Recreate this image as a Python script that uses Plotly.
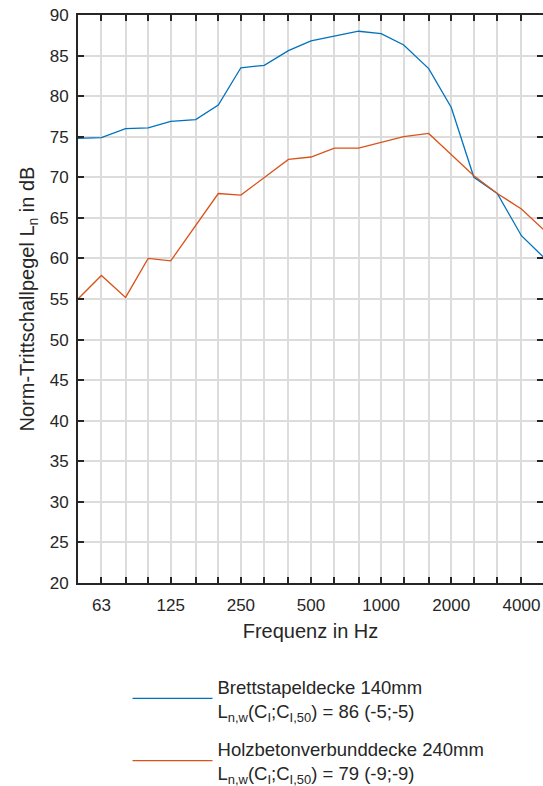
import math
import plotly.graph_objects as go

freqs = [50, 63, 80, 100, 125, 160, 200, 250, 315, 400, 500, 630, 800,
         1000, 1250, 1600, 2000, 2500, 3150, 4000, 5000]
brettstapel = [74.8, 74.9, 76.0, 76.1, 76.9, 77.1, 78.9, 83.5, 83.8, 85.6,
               86.8, 87.4, 88.0, 87.7, 86.3, 83.4, 78.6, 70.0, 68.0, 62.8, 60.1]
holzbeton = [55.0, 57.9, 55.2, 60.0, 59.7, 64.0, 68.0, 67.8, 70.0, 72.2,
             72.5, 73.6, 73.6, 74.3, 75.0, 75.4, 72.8, 70.2, 68.0, 66.1, 63.5]
labelled = [63, 125, 250, 500, 1000, 2000, 4000]
unlabelled = [f for f in freqs if f not in labelled]

name_a = "Brettstapeldecke 140mm<br>L<sub>n,w</sub>(C<sub>I</sub>;C<sub>I,50</sub>) = 86 (-5;-5)"
name_b = "Holzbetonverbunddecke 240mm<br>L<sub>n,w</sub>(C<sub>I</sub>;C<sub>I,50</sub>) = 79 (-9;-9)"

FONT = "Liberation Sans, Arial, sans-serif"
TXT = "#262626"
GRID = "#dcdcdc"

fig = go.Figure()
fig.add_trace(go.Scatter(x=freqs, y=brettstapel, mode="lines", name=name_a,
                         line=dict(color="#0072BD", width=1.3), legendgroup="a"))
fig.add_trace(go.Scatter(x=freqs, y=holzbeton, mode="lines", name=name_b,
                         line=dict(color="#D95319", width=1.3), legendgroup="b"))
# invisible trace to host the right-hand tick axis
fig.add_trace(go.Scatter(x=freqs, y=holzbeton, yaxis="y2", mode="lines",
                         opacity=0, showlegend=False, hoverinfo="skip"))

x0 = math.log10(50)
fig.update_layout(
    width=543, height=786,
    margin=dict(l=78, r=0, t=15, b=203, autoexpand=False),
    paper_bgcolor="white", plot_bgcolor="white",
    font=dict(family=FONT, size=17, color=TXT),
    showlegend=True,
    legend=dict(x=0.1065, y=-0.1495, xanchor="left", yanchor="top",
                font=dict(size=18.5, color=TXT), itemwidth=80,
                traceorder="grouped", tracegroupgap=11,
                bgcolor="rgba(0,0,0,0)"),
    xaxis=dict(type="log", range=[x0, x0 + 2 * 465 / 466],
               tickmode="array", tickvals=labelled,
               ticks="inside", ticklen=6, tickwidth=1.5, tickcolor=TXT,
               showline=True, linewidth=2, linecolor=TXT, mirror="ticks",
               showgrid=True, gridcolor=GRID, gridwidth=1.5,
               minor=dict(tickmode="array", tickvals=unlabelled, ticks="inside",
                          ticklen=6, tickwidth=1.5, tickcolor=TXT,
                          showgrid=True, gridcolor=GRID, gridwidth=1.5),
               zeroline=False, ticklabelstandoff=6,
               tickfont=dict(size=17, color=TXT),
               title=dict(text="Frequenz in Hz", font=dict(size=20, color=TXT), standoff=10)),
    yaxis=dict(range=[20, 90], tick0=20, dtick=5,
               ticks="inside", ticklen=6, tickwidth=1.5, tickcolor=TXT,
               showline=True, linewidth=2, linecolor=TXT, mirror=False,
               showgrid=True, gridcolor=GRID, gridwidth=1.5,
               zeroline=False, ticklabelstandoff=4,
               tickfont=dict(size=17, color=TXT),
               title=dict(text="Norm-Trittschallpegel L<sub>n</sub> in dB",
                          font=dict(size=20, color=TXT), standoff=10)),
    yaxis2=dict(overlaying="y", side="right", range=[20, 90], tick0=20, dtick=5,
                ticks="inside", ticklen=6, tickwidth=1.5, tickcolor=TXT,
                showticklabels=False, showgrid=False, showline=False, zeroline=False),
)

fig.write_html("out.html")
